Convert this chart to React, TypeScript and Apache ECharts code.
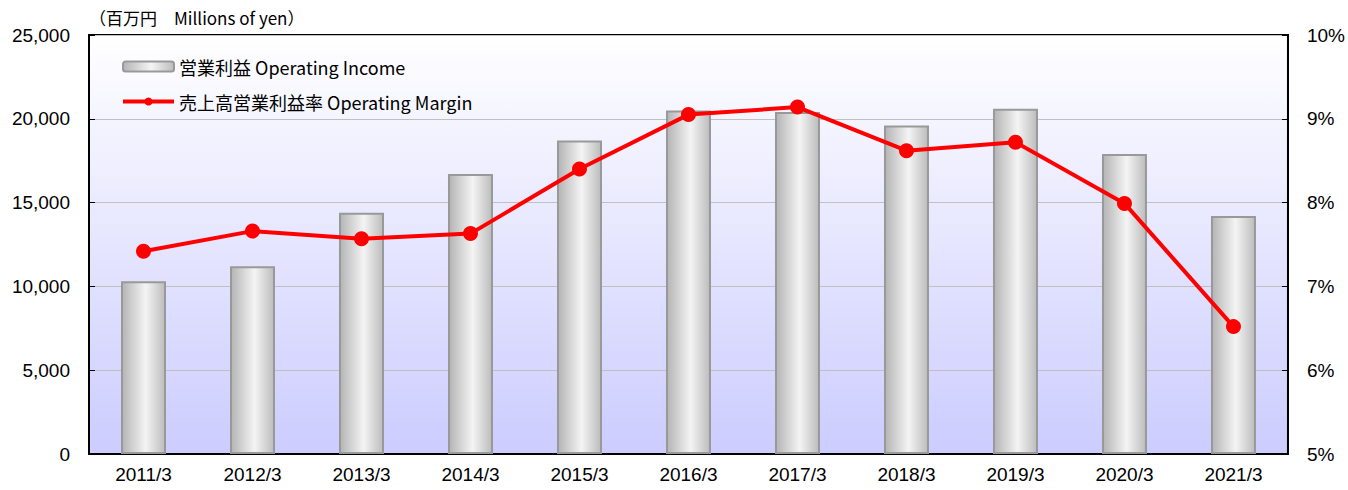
import React, { useEffect, useRef } from "react";
import * as echarts from "echarts";

const categories = ["2011/3", "2012/3", "2013/3", "2014/3", "2015/3", "2016/3", "2017/3", "2018/3", "2019/3", "2020/3", "2021/3"];
const operatingIncome = [10300, 11200, 14400, 16700, 18700, 20500, 20400, 19600, 20600, 17900, 14200];
const operatingMargin = [7.42, 7.66, 7.57, 7.63, 8.40, 9.05, 9.14, 8.62, 8.72, 7.99, 6.52];
const incomeName = "営業利益 Operating Income";
const marginName = "売上高営業利益率 Operating Margin";
const unitLabel = "（百万円　Millions of yen）";

const FONT = "'Noto Sans CJK JP', 'Noto Sans', sans-serif";
const NUMFONT = "'Liberation Sans', Arial, sans-serif";

export default function App() {
  const ref = useRef<HTMLDivElement>(null);
  useEffect(() => {
    if (!ref.current) return;
    const chart = echarts.init(ref.current, null, { renderer: "svg" });
    chart.setOption({
      animation: false,
      textStyle: { fontFamily: FONT },
      title: {
        text: unitLabel,
        left: 84,
        top: 4,
        textStyle: { fontFamily: FONT, fontSize: 17, fontWeight: "normal", color: "#000" },
      },
      legend: {
        orient: "vertical",
        left: 116,
        top: 49,
        itemGap: 10,
        itemWidth: 51,
        itemHeight: 10,
        textStyle: { fontFamily: FONT, fontSize: 18, color: "#000", lineHeight: 25 },
        data: [
          { name: incomeName },
          { name: marginName, lineStyle: { width: 4, color: "#ff0000" } },
        ],
      },
      grid: {
        left: 89,
        right: 57,
        top: 35,
        bottom: 36,
        show: true,
        borderColor: "#000",
        borderWidth: 2,
        backgroundColor: new echarts.graphic.LinearGradient(0, 0, 0, 1, [
          { offset: 0, color: "#ffffff" },
          { offset: 1, color: "#ccccff" },
        ]),
      },
      xAxis: {
        type: "category",
        data: categories,
        axisLine: { lineStyle: { color: "#000", width: 2 } },
        axisTick: { inside: true, length: 6, lineStyle: { color: "#000" } },
        axisLabel: { color: "#000", fontSize: 19, margin: 11, fontFamily: NUMFONT },
      },
      yAxis: [
        {
          type: "value",
          min: 0,
          max: 25000,
          interval: 5000,
          axisLine: { show: true, lineStyle: { color: "#000", width: 2 } },
          axisTick: { show: true, inside: true, length: 6, lineStyle: { color: "#000" } },
          axisLabel: {
            color: "#000",
            fontSize: 19,
            margin: 19,
            fontFamily: NUMFONT,
            formatter: (v: number) => v.toLocaleString("en-US"),
          },
          splitLine: { show: true, lineStyle: { color: "#c0c0c0", width: 1 } },
        },
        {
          type: "value",
          min: 5,
          max: 10,
          interval: 1,
          position: "right",
          axisLine: { show: true, lineStyle: { color: "#000", width: 2 } },
          axisTick: { show: true, inside: true, length: 6, lineStyle: { color: "#000" } },
          axisLabel: { color: "#000", fontSize: 19, margin: 19, fontFamily: NUMFONT, formatter: "{value}%" },
          splitLine: { show: false },
        },
      ],
      series: [
        {
          name: incomeName,
          type: "bar",
          data: operatingIncome,
          barWidth: 45,
          itemStyle: {
            color: new echarts.graphic.LinearGradient(0, 0, 1, 0, [
              { offset: 0, color: "#b4b4b4" },
              { offset: 0.55, color: "#f4f4f4" },
              { offset: 1, color: "#bcbcbc" },
            ]),
            borderColor: "#999999",
            borderWidth: 2,
          },
        },
        {
          name: marginName,
          type: "line",
          yAxisIndex: 1,
          data: operatingMargin,
          symbol: "circle",
          symbolSize: 15,
          lineStyle: { color: "#ff0000", width: 4 },
          itemStyle: { color: "#ff0000" },
        },
      ],
    });
    return () => chart.dispose();
  }, []);
  return <div ref={ref} style={{ width: 1348, height: 490, position: "absolute", left: 0, top: 0 }} />;
}
